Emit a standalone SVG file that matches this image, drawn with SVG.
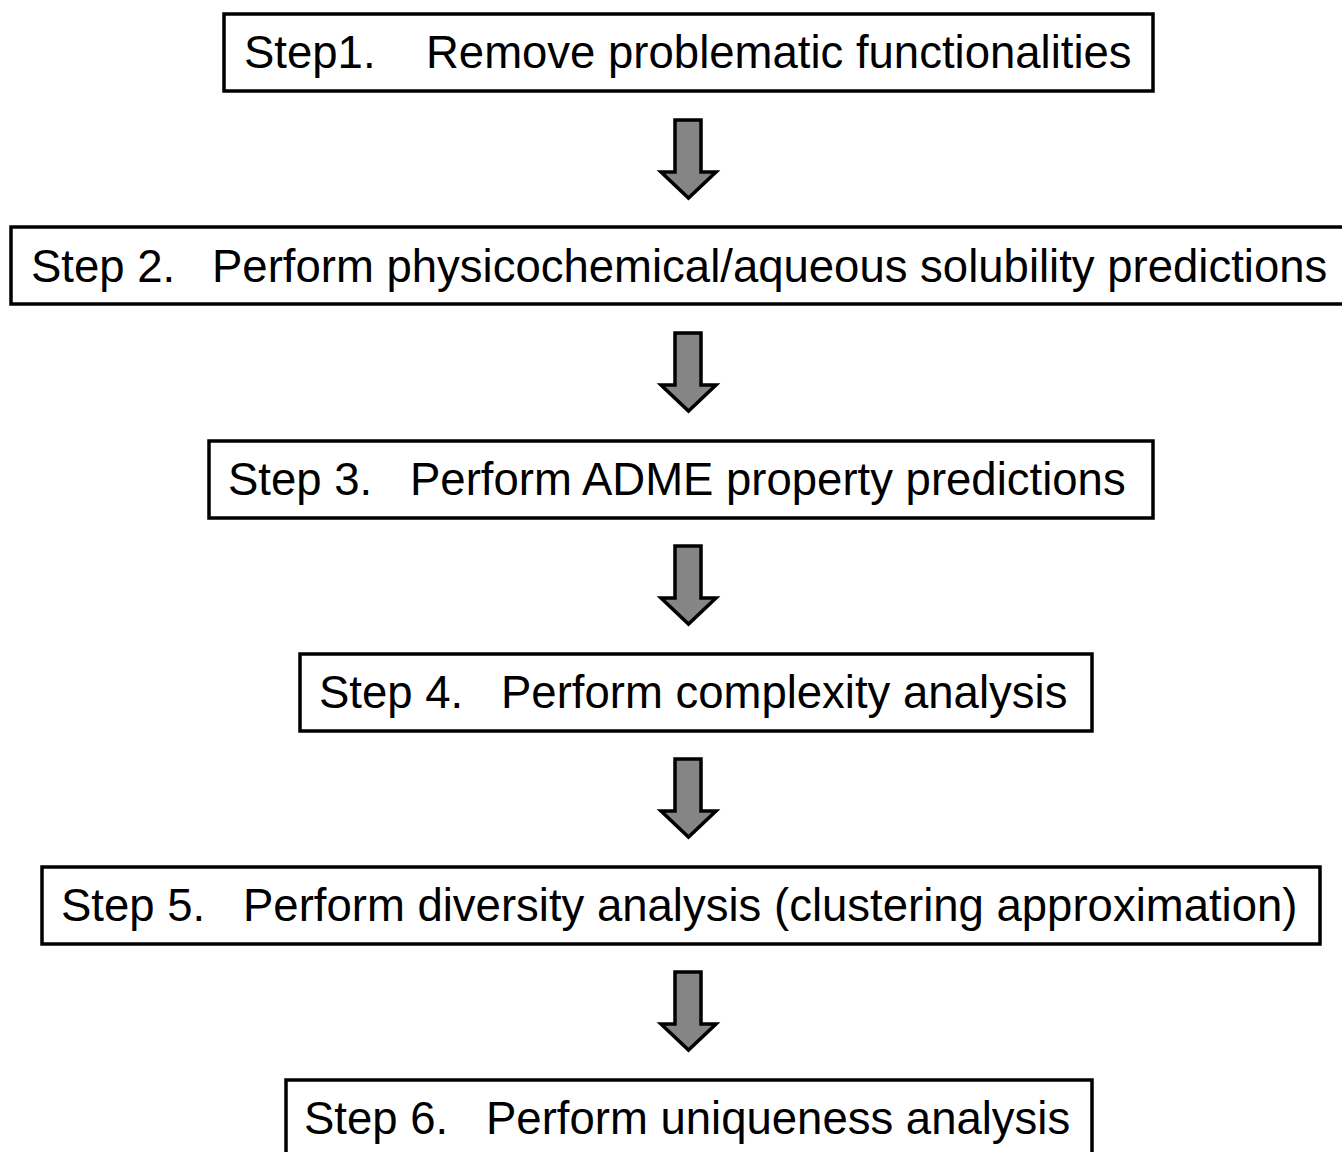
<svg xmlns="http://www.w3.org/2000/svg" width="1342" height="1152" viewBox="0 0 1342 1152">
<style>
.box{fill:#fff;stroke:#000;stroke-width:3.5}
.t{font-family:"Liberation Sans",Arial,sans-serif;font-size:45.5px;fill:#000}
.arr{fill:#858585;stroke:#000;stroke-width:3.5;stroke-linejoin:miter}
</style>
<defs>
<path id="arrow" d="M675,120 H701 V172 H716 L688.5,198 L661,172 H675 Z"/>
</defs>
<rect width="1342" height="1152" fill="#fff"/>
<g id="connectors">
<use href="#arrow" class="arr"/>
<use href="#arrow" class="arr" y="213"/>
<use href="#arrow" class="arr" y="426"/>
<use href="#arrow" class="arr" y="639"/>
<use href="#arrow" class="arr" y="852"/>
</g>
<g id="step1">
<rect class="box" x="224" y="14" width="929" height="77"/>
<text class="t" x="244" y="68">Step1.</text>
<text class="t" x="426" y="68">Remove problematic functionalities</text>
</g>
<g id="step2">
<rect class="box" x="11" y="227" width="1340" height="77"/>
<text class="t" x="31" y="282">Step 2.</text>
<text class="t" x="212" y="282">Perform physicochemical/aqueous solubility predictions</text>
</g>
<g id="step3">
<rect class="box" x="209" y="441" width="944" height="77"/>
<text class="t" x="228" y="495">Step 3.</text>
<text class="t" x="410" y="495">Perform ADME property predictions</text>
</g>
<g id="step4">
<rect class="box" x="300" y="654" width="792" height="77"/>
<text class="t" x="319" y="708">Step 4.</text>
<text class="t" x="501" y="708">Perform complexity analysis</text>
</g>
<g id="step5">
<rect class="box" x="42" y="867" width="1278" height="77"/>
<text class="t" x="61" y="921">Step 5.</text>
<text class="t" x="243" y="921">Perform diversity analysis (clustering approximation)</text>
</g>
<g id="step6">
<rect class="box" x="286" y="1080" width="806" height="77"/>
<text class="t" x="304" y="1134">Step 6.</text>
<text class="t" x="486" y="1134">Perform uniqueness analysis</text>
</g>
</svg>
